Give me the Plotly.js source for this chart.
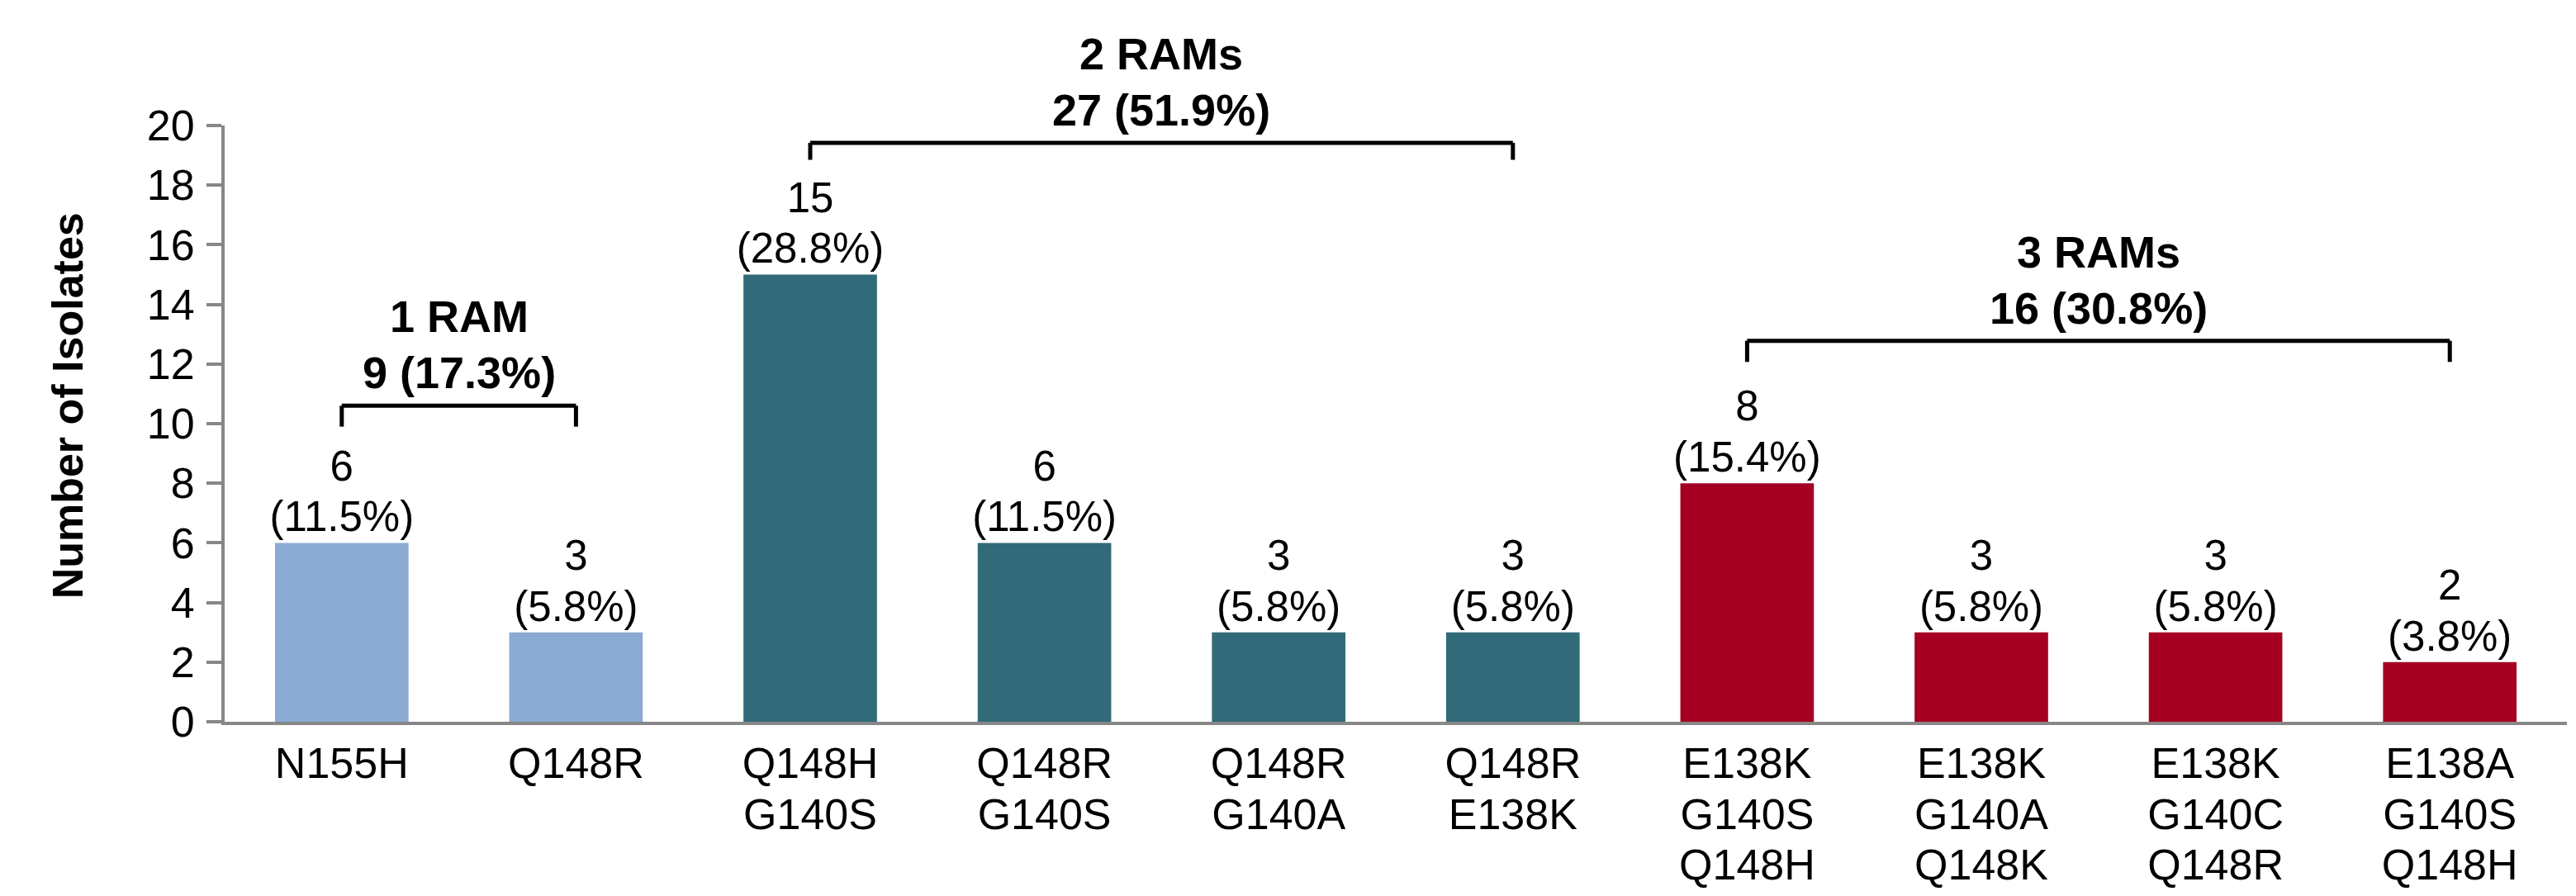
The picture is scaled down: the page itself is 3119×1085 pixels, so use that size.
<!DOCTYPE html>
<html>
<head>
<meta charset="utf-8">
<script src="https://cdn.plot.ly/plotly-3.0.1.min.js"></script>
<style>html,body{margin:0;padding:0;background:#fff;}#chart{width:3119px;height:1085px;}</style>
</head>
<body>
<div id="chart"></div>
<script>
// ---- data ----
var categories = ["N155H", "Q148R", "Q148H<br>G140S", "Q148R<br>G140S", "Q148R<br>G140A", "Q148R<br>E138K",
                  "E138K<br>G140S<br>Q148H", "E138K<br>G140A<br>Q148K", "E138K<br>G140C<br>Q148R", "E138A<br>G140S<br>Q148H"];
var isolates = [6, 3, 15, 6, 3, 3, 8, 3, 3, 2];
var percents = [11.5, 5.8, 28.8, 11.5, 5.8, 5.8, 15.4, 5.8, 5.8, 3.8];
var groupOf = [0, 0, 1, 1, 1, 1, 2, 2, 2, 2];
var groupNames = ["1 RAM", "2 RAMs", "3 RAMs"];
var groupCounts = [9, 27, 16];
var groupPercents = [17.3, 51.9, 30.8];
var yTicks = [0, 2, 4, 6, 8, 10, 12, 14, 16, 18, 20];

// ---- styling ----
var groupColors = ["#8AAAD2", "#316B79", "#A50022"];
var bracketLevels = [[9.9, 10.6], [18.85, 19.42], [12.07, 12.78]]; // [leg bottom, bar top] per group
var FONT = "Arial, 'Liberation Sans', sans-serif";
var axisGray = "#878787";

// wrap each line in a span so glyph size and line spacing can differ
function sized(str, px, bold) {
  return str.split("<br>").map(function (l) {
    var s = '<span style="font-size:' + px + 'px">' + l + '</span>';
    return bold ? "<b>" + s + "</b>" : s;
  }).join("<br>");
}

var xIdx = categories.map(function (_, i) { return i; });
var barText = isolates.map(function (v, i) { return sized(v + "<br>(" + percents[i].toFixed(1) + "%)", 51); });
var barColors = groupOf.map(function (g) { return groupColors[g]; });
var tickText = categories.map(function (c) { return sized(c, 52); });

var trace = {
  type: "bar",
  x: xIdx,
  y: isolates,
  marker: { color: barColors, line: { width: 0 } },
  text: barText,
  textposition: "outside",
  textfont: { family: FONT, size: 47.5, color: "#000" },
  constraintext: "none",
  cliponaxis: false,
  hoverinfo: "none"
};

var shapes = [];
var annotations = [];
groupNames.forEach(function (name, g) {
  var members = xIdx.filter(function (i) { return groupOf[i] === g; });
  var x0 = members[0], x1 = members[members.length - 1];
  var lo = bracketLevels[g][0], hi = bracketLevels[g][1];
  var ln = { color: "#000", width: 5 };
  shapes.push({ type: "line", xref: "x", yref: "y", x0: x0, x1: x1, y0: hi, y1: hi, line: ln });
  shapes.push({ type: "line", xref: "x", yref: "y", x0: x0, x1: x0, y0: lo, y1: hi, line: ln });
  shapes.push({ type: "line", xref: "x", yref: "y", x0: x1, x1: x1, y0: lo, y1: hi, line: ln });
  annotations.push({
    xref: "x", yref: "y", x: (x0 + x1) / 2, y: hi,
    yanchor: "bottom", xanchor: "center", yshift: 8,
    showarrow: false,
    text: sized(name + "<br>" + groupCounts[g] + " (" + groupPercents[g].toFixed(1) + "%)", 54, true),
    font: { family: FONT, size: 52.5, color: "#000" }
  });
});

var layout = {
  width: 3119, height: 1085,
  margin: { l: 272, r: 11, t: 152, b: 211 },
  paper_bgcolor: "#fff", plot_bgcolor: "#fff",
  showlegend: false,
  bargap: 0.43,
  font: { family: FONT, color: "#000" },
  xaxis: {
    range: [-0.5, categories.length - 0.5],
    tickvals: xIdx, ticktext: tickText,
    showline: true, linecolor: axisGray, linewidth: 4,
    ticks: "", showgrid: false, zeroline: false,
    tickfont: { family: FONT, size: 47, color: "#000" },
    ticklabelstandoff: 8
  },
  yaxis: {
    range: [0, 20], tickvals: yTicks,
    showline: true, linecolor: axisGray, linewidth: 4,
    ticks: "outside", ticklen: 18, tickwidth: 4, tickcolor: axisGray,
    showgrid: false, zeroline: false,
    tickfont: { family: FONT, size: 52, color: "#000" },
    ticklabelstandoff: 4,
    title: { text: "&nbsp;&nbsp;&nbsp;<b>Number of Isolates</b>", font: { family: FONT, size: 52, color: "#000" }, standoff: 62 }
  },
  shapes: shapes,
  annotations: annotations
};

Plotly.newPlot("chart", [trace], layout, { staticPlot: true, displayModeBar: false });
</script>
</body>
</html>
